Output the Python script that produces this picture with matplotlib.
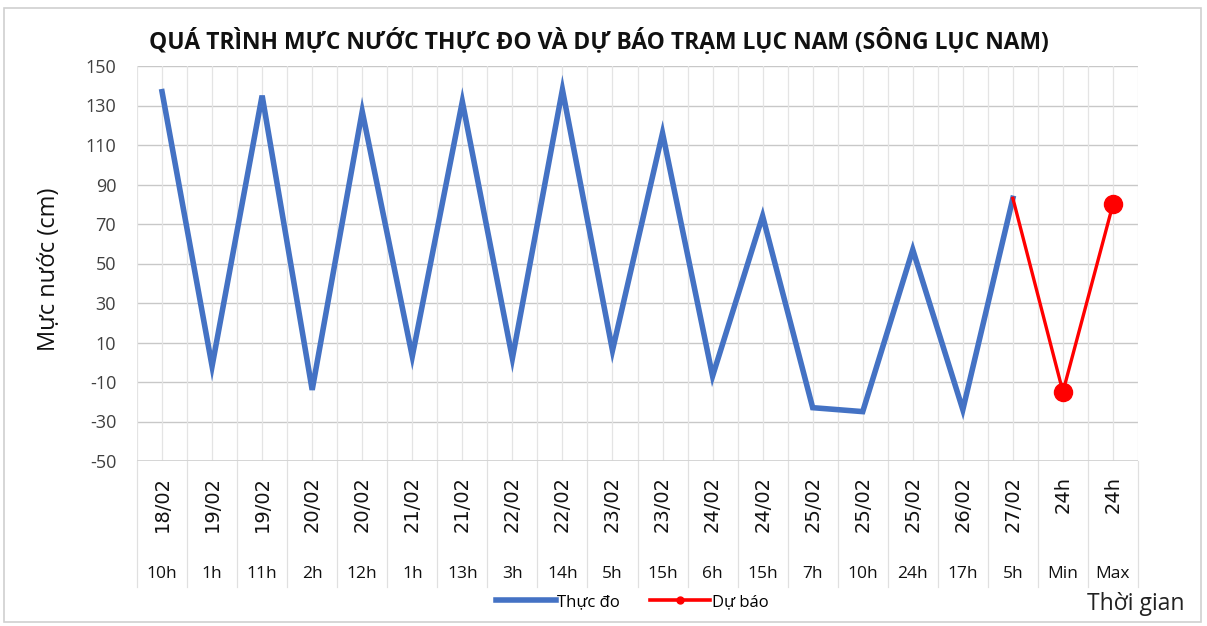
import matplotlib
matplotlib.use("Agg")
import matplotlib.pyplot as plt
import matplotlib.transforms as mtransforms
from matplotlib.patches import Rectangle
from matplotlib.lines import Line2D

plt.rcParams['font.family'] = ['Open Sans', 'DejaVu Sans']
plt.rcParams['axes.unicode_minus'] = False

dates = ["18/02", "19/02", "19/02", "20/02", "20/02", "21/02", "21/02", "22/02", "22/02",
         "23/02", "23/02", "24/02", "24/02", "25/02", "25/02", "25/02", "26/02", "27/02"]
hours = ["10h", "1h", "11h", "2h", "12h", "1h", "13h", "3h", "14h",
         "5h", "15h", "6h", "15h", "7h", "10h", "24h", "17h", "5h"]
fc_dates = ["24h", "24h"]
fc_hours = ["Min", "Max"]

observed = [137, -2, 135, -14, 127, 3, 132, 2, 138, 6, 116, -7, 74, -23, -25, 57, -24, 83]
forecast = [83, -15, 80]

all_dates = dates + fc_dates
all_hours = hours + fc_hours
n = len(all_dates)

fig = plt.figure(figsize=(12.07, 6.26), dpi=100)
fig.patches.append(Rectangle((4/1207, 4/626), 1197/1207, 614/626, transform=fig.transFigure,
                             fill=False, edgecolor='#D0D0D0', linewidth=1.2))
ax = fig.add_axes([137/1207, 1 - 461/626, (1138-137)/1207, (461-66)/626])

x_obs = list(range(len(observed)))
x_fc = list(range(len(observed) - 1, len(observed) - 1 + len(forecast)))

ax.set_xlim(-0.5, n - 0.5)
ax.set_ylim(-50, 150)
ax.set_yticks(range(-50, 151, 20))
ax.tick_params(axis='y', labelsize=13, length=0, pad=15, labelcolor='#404040')

# gridlines
for y in range(-50, 151, 20):
    ax.axhline(y, color='#C8C8C8', lw=1.0, zorder=0)
for k in range(n):
    ax.axvline(k, color='#E4E4E4', lw=0.9, zorder=0)
    ax.axvline(k - 0.5, color='#E4E4E4', lw=0.9, zorder=0)
ax.axvline(n - 0.5, color='#E4E4E4', lw=0.9, zorder=0)

for s in ax.spines.values():
    s.set_visible(False)
ax.axhline(-50, color='#D0D0D0', lw=1.2, zorder=1)

ax.plot(x_obs, observed, color='#4472C4', lw=4.0, solid_joinstyle='miter', zorder=3)
ax.plot(x_fc, forecast, color='#FF0000', lw=2.4, marker='o', markersize=13,
        markevery=[1, 2], zorder=4)

ax.set_xticks([])
trans = mtransforms.blended_transform_factory(ax.transData, ax.transAxes)
for k in range(n):
    ax.text(k, -0.038, all_dates[k], rotation=90, ha='center', va='top',
            fontsize=14, transform=trans, color='#111111', family='DejaVu Sans')
    ax.text(k, -0.285, all_hours[k], ha='center', va='center', fontsize=12.5,
            transform=trans, color='#111111')
for k in range(n + 1):
    ax.plot([k - 0.5, k - 0.5], [0, -0.32], transform=trans, color='#E0E0E0',
            lw=0.9, clip_on=False)

fig.text(599/1207, 1 - 42/626, "QUÁ TRÌNH MỰC NƯỚC THỰC ĐO VÀ DỰ BÁO TRẠM LỤC NAM (SÔNG LỤC NAM)",
         ha='center', va='center', fontsize=16.5, fontweight='bold', color='#111111')
fig.text(49/1207, 1 - 269/626, "Mực nước (cm)", rotation=90, ha='center', va='center',
         fontsize=17, color='#111111')
fig.text(1136/1207, 1 - 604/626, "Thời gian", ha='center', va='center', fontsize=16.5,
         color='#222222')

handles = [Line2D([], [], color='#4472C4', lw=4.0),
           Line2D([], [], color='#FF0000', lw=2.6, marker='o', markersize=5)]
fig.legend(handles, ["Thực đo", "Dự báo"], loc='center', bbox_to_anchor=(632/1207, 1 - 602/626),
           ncol=2, frameon=False, fontsize=12, handlelength=3.6, columnspacing=1.8,
           handletextpad=0.1)

fig.savefig("out.png", dpi=100, facecolor='white')
